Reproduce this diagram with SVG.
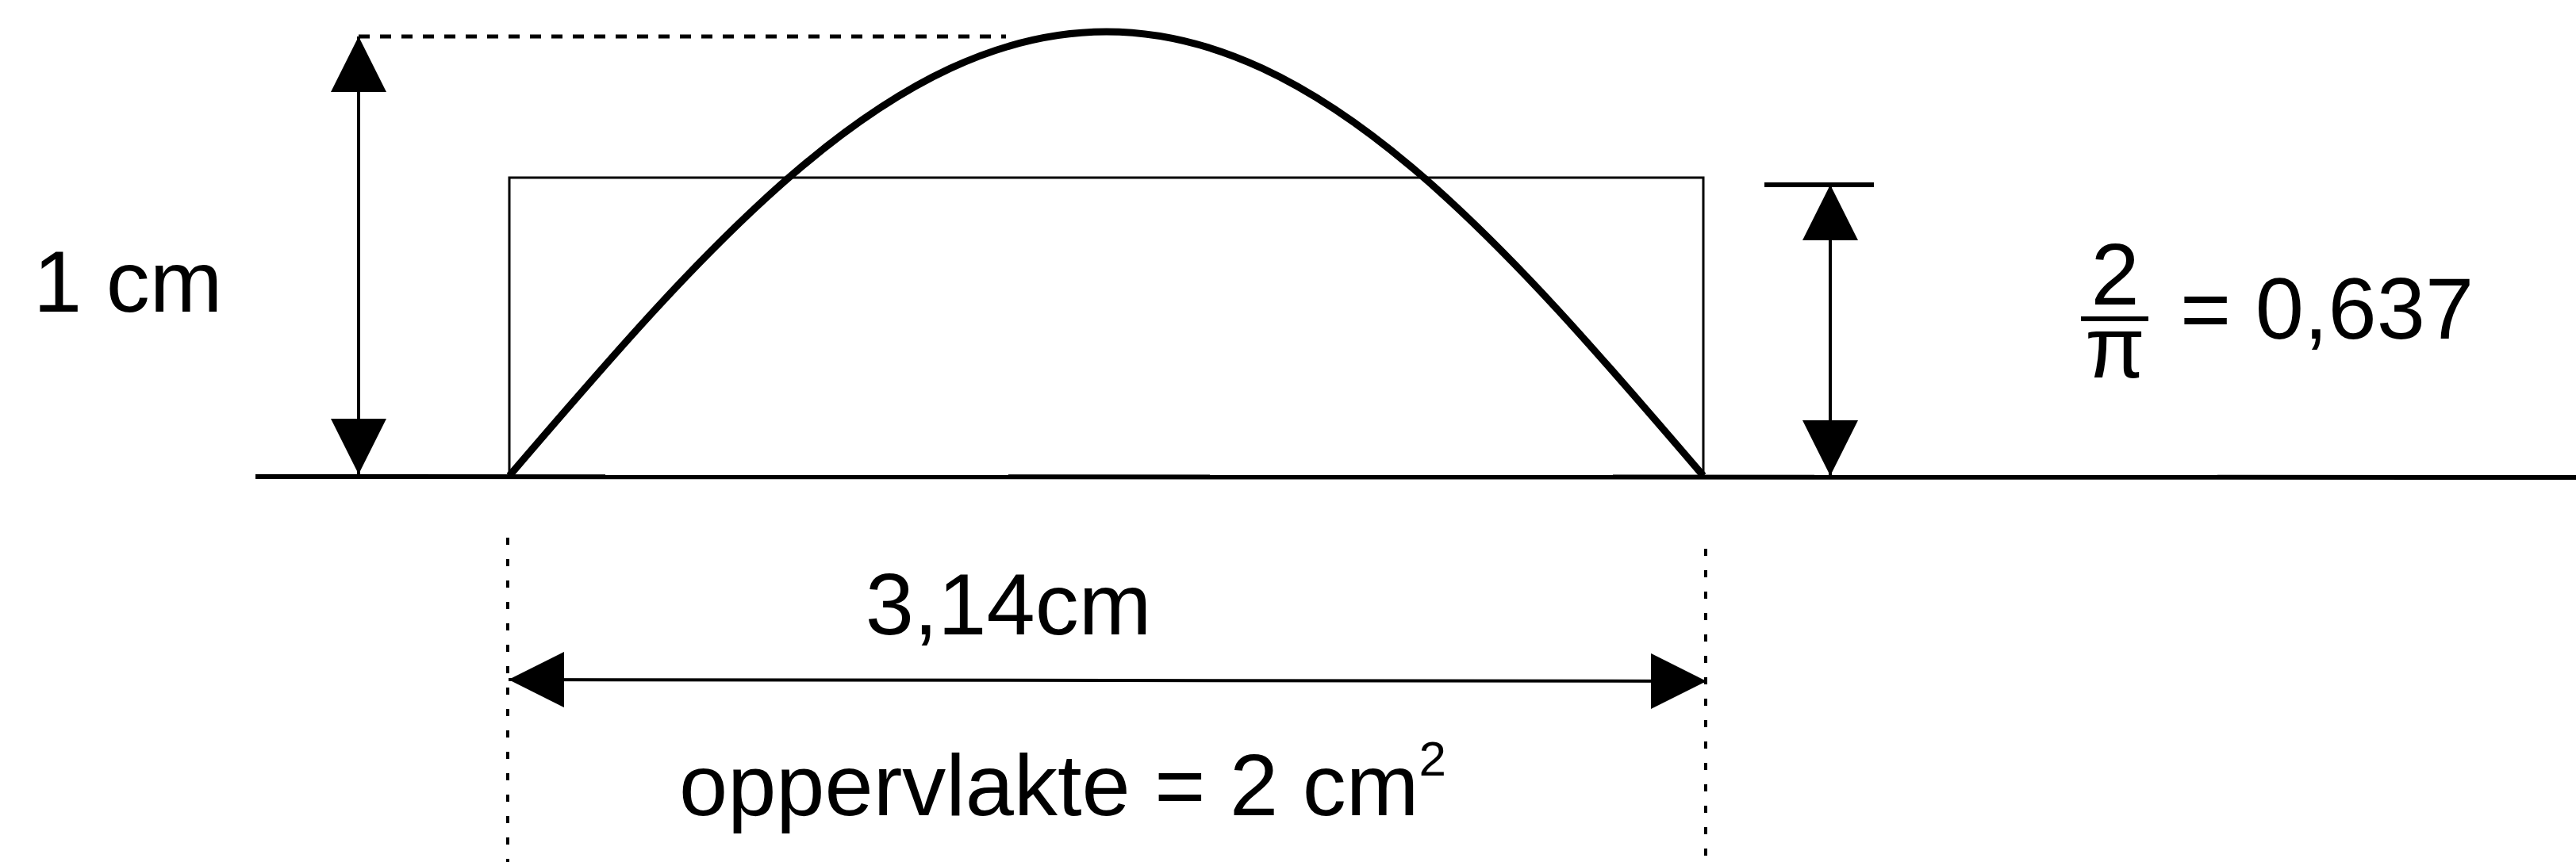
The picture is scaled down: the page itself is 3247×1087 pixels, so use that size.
<svg xmlns="http://www.w3.org/2000/svg" width="3247" height="1087" viewBox="0 0 3247 1087">
<style>
.lbl{font-family:"Liberation Sans",Arial,sans-serif;font-size:110px;fill:#000}
.thin{fill:none;stroke:#000;stroke-width:3}
.arrow{fill:none;stroke:#000;stroke-width:4}
.dot{fill:none;stroke:#000;stroke-width:5;stroke-dasharray:14 13}
.dotv{fill:none;stroke:#000;stroke-width:4;stroke-dasharray:9 18}
</style>
<defs>
<marker id="ah" markerUnits="userSpaceOnUse" markerWidth="70" markerHeight="70" viewBox="0 0 68 68" refX="68" refY="34" orient="auto-start-reverse">
<path d="M0,0 L68,34 L0,68 z" fill="#000"/>
</marker>
</defs>
<rect width="3247" height="1087" fill="#fff"/>
<g id="baseline"><line x1="322" y1="601" x2="3247" y2="602" stroke="#000" stroke-width="6"/></g>
<g id="rectangle"><rect x="642" y="224" width="1505" height="377" class="thin"/></g>
<g id="sine"><path d="M642,600 C893.5,306 1123.5,40 1394.5,40 C1665.5,40 1895.5,306 2147,600" fill="none" stroke="#000" stroke-width="9"/></g>
<g id="connectors">
<line x1="452" y1="46" x2="1268" y2="46" class="dot"/>
<line x1="452" y1="46" x2="452" y2="598" class="arrow" marker-start="url(#ah)" marker-end="url(#ah)"/>
<line x1="2224" y1="233" x2="2362" y2="233" stroke="#000" stroke-width="6"/>
<line x1="2307" y1="233" x2="2307" y2="600" class="arrow" marker-start="url(#ah)" marker-end="url(#ah)"/>
<line x1="640" y1="678" x2="640" y2="1087" class="dotv"/>
<line x1="2150" y1="692" x2="2150" y2="1087" class="dotv"/>
<line x1="641" y1="857" x2="2151" y2="859" class="arrow" marker-start="url(#ah)" marker-end="url(#ah)"/>
</g>
<g id="label-1cm"><text class="lbl" x="42" y="393">1 cm</text></g>
<g id="label-ratio">
<text class="lbl" x="2666" y="384" text-anchor="middle" font-size="106">2</text>
<line x1="2623" y1="402" x2="2708" y2="402" stroke="#000" stroke-width="6"/>
<text class="lbl" x="2666" y="476" text-anchor="middle" font-size="100">π</text>
<text class="lbl" x="2748" y="427">= 0,637</text>
</g>
<g id="label-length"><text class="lbl" x="1271" y="800" text-anchor="middle">3,14cm</text></g>
<g id="label-area"><text class="lbl" x="856" y="1028">oppervlakte = 2 cm<tspan dy="-50" font-size="62">2</tspan></text></g>
</svg>
